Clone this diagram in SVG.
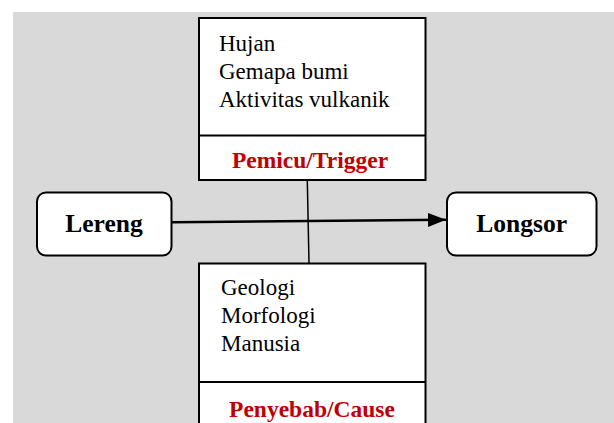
<svg xmlns="http://www.w3.org/2000/svg" width="614" height="423" viewBox="0 0 614 423">
  <defs>
    <style>
      .box { fill: #ffffff; stroke: #000000; stroke-width: 2; }
      .item { font-family: "Liberation Serif", "Times New Roman", serif; font-size: 23px; fill: #000000; }
      .title { font-family: "Liberation Serif", "Times New Roman", serif; font-size: 23.5px; font-weight: bold; fill: #c00000; text-anchor: middle; }
      .node { font-family: "Liberation Serif", "Times New Roman", serif; font-size: 25.5px; font-weight: bold; fill: #000000; text-anchor: middle; }
      .conn { stroke: #000000; fill: none; }
    </style>
    <marker id="arrow" markerWidth="18" markerHeight="14" refX="18" refY="7" orient="auto" markerUnits="userSpaceOnUse">
      <path d="M0,0 L18,7 L0,14 Z" fill="#000000"/>
    </marker>
  </defs>
  <rect x="0" y="0" width="614" height="423" fill="#ffffff"/>
  <rect x="13" y="12" width="601" height="411" fill="#d9d9d9"/>

  <g id="connectors">
    <line class="conn" x1="307.3" y1="180" x2="309" y2="263" stroke-width="1.5"/>
    <line class="conn" x1="172" y1="222.3" x2="446" y2="219.8" stroke-width="2.5" marker-end="url(#arrow)"/>
  </g>

  <g id="trigger">
    <rect class="box" x="199" y="18" width="226.5" height="162"/>
    <line x1="199" y1="135.5" x2="425.5" y2="135.5" stroke="#000" stroke-width="2"/>
    <text class="item" x="219" y="50.5">Hujan</text>
    <text class="item" x="219" y="78.5">Gemapa bumi</text>
    <text class="item" x="219" y="106.5">Aktivitas vulkanik</text>
    <text class="title" x="310" y="168.3">Pemicu/Trigger</text>
  </g>

  <g id="lereng">
    <rect class="box" x="37" y="192.5" width="134.5" height="63" rx="9" ry="9"/>
    <text class="node" x="104" y="232.3">Lereng</text>
  </g>

  <g id="longsor">
    <rect class="box" x="447" y="192.5" width="149.5" height="63" rx="9" ry="9"/>
    <text class="node" x="521.7" y="232.3">Longsor</text>
  </g>

  <g id="cause">
    <rect class="box" x="199" y="263.5" width="226.5" height="170"/>
    <line x1="199" y1="382" x2="425.5" y2="382" stroke="#000" stroke-width="2"/>
    <text class="item" x="221" y="295">Geologi</text>
    <text class="item" x="221" y="323.3">Morfologi</text>
    <text class="item" x="221" y="351">Manusia</text>
    <text class="title" x="312" y="416.7">Penyebab/Cause</text>
  </g>
</svg>
